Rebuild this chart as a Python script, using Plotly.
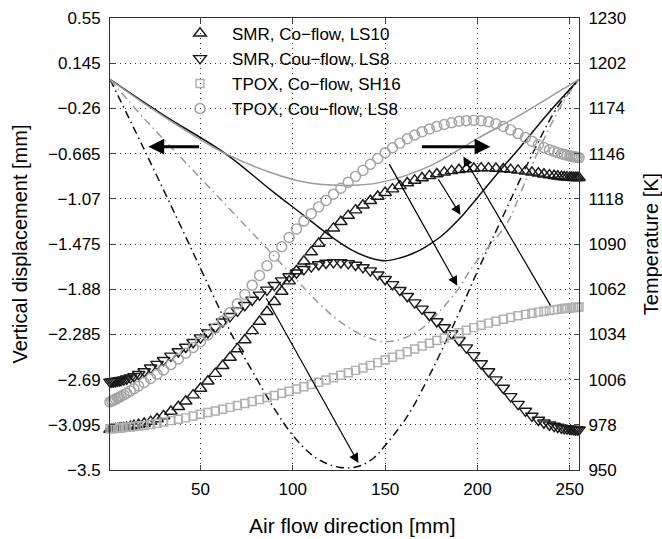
import plotly.graph_objects as go

# ---------------- data ----------------
# shared axial positions of marker samples [mm]
x_nodes = [1, 2, 3, 4, 5, 6, 7, 8.5, 10, 12, 14, 16.5, 19.5, 23, 26.5, 30,
           34, 38, 42, 46, 50, 54, 58, 62, 66, 70, 74, 78, 82, 86, 90, 94, 98,
           102, 106, 110, 114, 118, 122, 126, 130, 134, 138, 142, 146, 150,
           154, 158, 162, 166, 170, 174, 178, 182, 186, 190, 194, 198, 202,
           206, 210, 214, 218, 222, 226, 229.5, 233, 236, 239, 241.5, 243.5,
           245.5, 247, 248.5, 250, 251, 252, 253, 254, 255]

# temperatures [K] (right axis)
T_smr_co = [975.0, 975.1, 975.2, 975.4, 975.5, 975.7, 975.9, 976.1, 976.4, 976.9,
            977.4, 978.0, 978.8, 980.0, 981.6, 983.5, 986.2, 989.2, 992.6, 996.4,
            1000.5, 1005.0, 1009.7, 1014.6, 1019.7, 1025.0, 1030.5, 1036.2, 1042.0,
            1048.0, 1054.2, 1060.6, 1067.0, 1073.3, 1079.3, 1085.0, 1090.3, 1095.2,
            1099.7, 1103.8, 1107.6, 1111.0, 1114.0, 1116.8, 1119.4, 1121.8, 1124.0,
            1126.0, 1127.8, 1129.4, 1130.9, 1132.2, 1133.4, 1134.4, 1135.3, 1136.0,
            1136.5, 1136.8, 1137.0, 1137.0, 1136.8, 1136.5, 1136.1, 1135.6, 1135.0,
            1134.4, 1133.8, 1133.2, 1132.7, 1132.3, 1132.0, 1131.7, 1131.5, 1131.4,
            1131.3, 1131.2, 1131.1, 1131.1, 1131.0, 1131.0]

T_smr_cou = [1004.6, 1004.7, 1004.8, 1005.0, 1005.2, 1005.4, 1005.6, 1006.0, 1006.5,
             1007.2, 1008.0, 1009.3, 1011.0, 1013.3, 1015.6, 1018.0, 1020.7, 1023.4,
             1026.2, 1029.1, 1032.0, 1035.2, 1038.5, 1041.8, 1045.2, 1048.6, 1052.0,
             1055.3, 1058.5, 1061.6, 1064.5, 1067.3, 1069.9, 1072.2, 1074.3, 1076.0,
             1077.3, 1078.2, 1078.6, 1078.5, 1078.0, 1077.0, 1075.5, 1073.5, 1071.0,
             1068.2, 1065.0, 1061.4, 1057.6, 1053.7, 1049.8, 1045.9, 1042.0, 1038.3,
             1034.5, 1030.4, 1025.8, 1021.0, 1016.0, 1011.0, 1006.0, 1000.8, 995.6,
             990.8, 986.6, 983.5, 981.0, 979.3, 978.0, 977.2, 976.6, 976.1, 975.8,
             975.6, 975.4, 975.3, 975.2, 975.1, 975.0, 975.0]

T_tpox_co = [975.5, 975.6, 975.7, 975.8, 975.9, 976.0, 976.1, 976.3, 976.5, 976.7,
             977.0, 977.3, 977.6, 978.2, 978.9, 979.7, 980.6, 981.4, 982.3, 983.4,
             984.5, 985.6, 986.6, 987.6, 988.8, 990.0, 991.2, 992.4, 993.6, 994.9,
             996.2, 997.5, 998.8, 1000.2, 1001.6, 1003.0, 1004.4, 1005.8, 1007.2,
             1008.7, 1010.2, 1011.7, 1013.2, 1014.8, 1016.5, 1018.2, 1019.9, 1021.6,
             1023.3, 1025.0, 1026.8, 1028.5, 1030.2, 1031.8, 1033.4, 1035.0, 1036.6,
             1038.2, 1039.7, 1041.0, 1042.2, 1043.4, 1044.5, 1045.5, 1046.4, 1047.1,
             1047.8, 1048.3, 1048.8, 1049.2, 1049.5, 1049.8, 1050.0, 1050.2, 1050.4,
             1050.6, 1050.7, 1050.8, 1050.9, 1051.0]

T_tpox_cou = [992.2, 992.8, 993.3, 993.9, 994.5, 995.1, 995.7, 996.6, 997.5, 998.9,
              1000.3, 1002.0, 1004.2, 1006.7, 1009.3, 1012.0, 1015.3, 1018.8, 1022.3,
              1025.9, 1029.5, 1033.6, 1037.9, 1042.3, 1047.5, 1053.0, 1058.7, 1064.5,
              1070.5, 1076.5, 1082.5, 1088.3, 1094.0, 1099.3, 1104.2, 1108.8, 1113.0,
              1117.0, 1120.8, 1124.5, 1128.2, 1131.9, 1135.6, 1139.4, 1143.0, 1146.5,
              1149.6, 1152.5, 1155.2, 1157.5, 1159.5, 1161.2, 1162.8, 1164.0, 1165.1,
              1166.0, 1166.4, 1166.6, 1166.4, 1165.7, 1164.5, 1162.8, 1160.7, 1158.4,
              1156.0, 1153.7, 1151.5, 1149.7, 1148.4, 1147.4, 1146.6, 1145.9, 1145.4,
              1145.0, 1144.6, 1144.3, 1144.1, 1143.9, 1143.7, 1143.5]

# vertical displacements [mm] (left axis)
x_d_smr_co = [1, 30, 63.5, 88, 106, 120, 132, 142, 150, 158, 165, 172, 180, 186,
              192.4, 200, 212, 222, 238, 255]
d_smr_co = [0, -0.32, -0.665, -0.99, -1.22, -1.40, -1.53, -1.60, -1.625, -1.60,
            -1.56, -1.50, -1.41, -1.32, -1.21, -1.06, -0.82, -0.63, -0.31, 0]

x_d_smr_cou = [1, 19, 38, 55, 68, 79, 90, 100, 110, 118, 125, 131, 137, 144, 150,
               162, 175, 189, 200, 214, 230, 241, 248, 255]
d_smr_cou = [0, -0.61, -1.27, -1.87, -2.32, -2.64, -2.95, -3.19, -3.36, -3.44,
             -3.475, -3.48, -3.46, -3.39, -3.28, -3.02, -2.62, -2.13, -1.72, -1.22,
             -0.66, -0.31, -0.14, 0]

x_d_tpox_co = [1, 19, 50, 63.5, 88, 106, 127, 147, 175, 200, 222, 240, 255]
d_tpox_co = [0, -0.21, -0.54, -0.665, -0.835, -0.92, -0.95, -0.925, -0.77, -0.53,
             -0.33, -0.15, 0]

x_d_tpox_cou = [1, 20, 40, 60, 80, 100, 115, 128, 140, 150, 160, 170, 180, 190,
                196, 205, 213.5, 218, 223, 232, 240, 248, 255]
d_tpox_cou = [0, -0.36, -0.71, -1.06, -1.41, -1.76, -2.02, -2.20, -2.31, -2.35,
              -2.32, -2.23, -2.07, -1.87, -1.71, -1.52, -1.35, -1.23, -1.03, -0.68,
              -0.40, -0.16, 0]

left_ticks = [-3.5, -3.095, -2.69, -2.285, -1.88, -1.475, -1.07, -0.665, -0.26, 0.145, 0.55]
left_ticktext = ["\u22123.5", "\u22123.095", "\u22122.69", "\u22122.285", "\u22121.88",
                 "\u22121.475", "\u22121.07", "\u22120.665", "\u22120.26", "0.145", "0.55"]
right_ticks = [950, 978, 1006, 1034, 1062, 1090, 1118, 1146, 1174, 1202, 1230]
x_ticks = [50, 100, 150, 200, 250]

# arrows: (tail_x, tail_y, head_x, head_y) in displacement-axis coordinates
thick_arrows = [(50, -0.603, 21.8, -0.603), (169.1, -0.603, 207.0, -0.603)]
thin_arrows = [(85.2, -1.948, 135.5, -3.437), (151.8, -0.746, 189.1, -1.849),
               (178.3, -0.881, 190.8, -1.213), (240.0, -2.038, 192.4, -0.692)]

# ---------------- figure ----------------
FONT = "Liberation Sans, Arial, sans-serif"
fig = go.Figure()

DD = "8px,4px,1.5px,4px"
fig.add_trace(go.Scatter(x=x_d_smr_co, y=d_smr_co, mode="lines", line_shape="spline",
                         line=dict(color="#111111", width=1.5), showlegend=False))
fig.add_trace(go.Scatter(x=x_d_smr_cou, y=d_smr_cou, mode="lines", line_shape="spline",
                         line=dict(color="#111111", width=1.5, dash=DD), showlegend=False))
fig.add_trace(go.Scatter(x=x_d_tpox_co, y=d_tpox_co, mode="lines", line_shape="spline",
                         line=dict(color="#9a9a9a", width=1.5), showlegend=False))
fig.add_trace(go.Scatter(x=x_d_tpox_cou, y=d_tpox_cou, mode="lines", line_shape="spline",
                         line=dict(color="#9a9a9a", width=1.5, dash=DD), showlegend=False))

MW = 1.45
fig.add_trace(go.Scatter(x=x_nodes, y=T_smr_co, yaxis="y2", mode="markers",
                         name="SMR, Co\u2212flow, LS10", cliponaxis=False,
                         marker=dict(symbol="triangle-up-open", size=11, color="#1a1a1a",
                                     line=dict(width=MW, color="#1a1a1a"))))
fig.add_trace(go.Scatter(x=x_nodes, y=T_smr_cou, yaxis="y2", mode="markers",
                         name="SMR, Cou\u2212flow, LS8", cliponaxis=False,
                         marker=dict(symbol="triangle-down-open", size=11, color="#1a1a1a",
                                     line=dict(width=MW, color="#1a1a1a"))))
fig.add_trace(go.Scatter(x=x_nodes, y=T_tpox_co, yaxis="y2", mode="markers",
                         name="TPOX, Co\u2212flow, SH16", cliponaxis=False,
                         marker=dict(symbol="square-open", size=8, color="#b0b0b0",
                                     line=dict(width=MW, color="#b0b0b0"))))
fig.add_trace(go.Scatter(x=x_nodes, y=T_tpox_cou, yaxis="y2", mode="markers",
                         name="TPOX, Cou\u2212flow, LS8", cliponaxis=False,
                         marker=dict(symbol="circle-open", size=10, color="#a3a3a3",
                                     line=dict(width=MW, color="#a3a3a3"))))

ann = []
for tx, ty, hx, hy in thick_arrows:
    ann.append(dict(x=hx, y=hy, ax=tx, ay=ty, xref="x", yref="y", axref="x", ayref="y",
                    text="", showarrow=True, arrowhead=2, arrowsize=1.05, arrowwidth=3,
                    arrowcolor="black", standoff=0, startstandoff=0))
for tx, ty, hx, hy in thin_arrows:
    ann.append(dict(x=hx, y=hy, ax=tx, ay=ty, xref="x", yref="y", axref="x", ayref="y",
                    text="", showarrow=True, arrowhead=2, arrowsize=1.6, arrowwidth=1.2,
                    arrowcolor="black", standoff=0, startstandoff=0))
# x-axis title (placed as text slightly right of centre, as in the original)
ann.append(dict(text="Air flow direction [mm]", xref="paper", yref="paper",
                x=0.518, y=-0.122, xanchor="center", yanchor="middle", showarrow=False,
                font=dict(family=FONT, size=21, color="black")))

fig.update_layout(
    width=662, height=539,
    margin=dict(l=110, r=83, t=18, b=69, autoexpand=False),
    paper_bgcolor="white", plot_bgcolor="white",
    font=dict(family=FONT, size=17, color="black"),
    annotations=ann,
    showlegend=True,
    legend=dict(x=0.1237, y=1.005, xanchor="left", yanchor="top",
                bgcolor="rgba(0,0,0,0)", borderwidth=0, itemwidth=54,
                font=dict(family=FONT, size=17, color="black"), tracegroupgap=0),
    xaxis=dict(range=[1, 255], tickvals=x_ticks, ticks="inside", ticklen=5,
               showline=True, linecolor="#333", linewidth=1, mirror="ticks",
               showgrid=True, gridcolor="#333", gridwidth=1, griddash="1px,4px",
               zeroline=False, ticklabelstandoff=4, automargin=False),
    yaxis=dict(range=[-3.5, 0.55], tickvals=left_ticks, ticktext=left_ticktext,
               ticks="inside", ticklen=5, showline=True, linecolor="#333", linewidth=1,
               showgrid=True, gridcolor="#333", gridwidth=1, griddash="1px,4px",
               zeroline=False, ticklabelstandoff=5, automargin=False,
               title=dict(text="Vertical displacement [mm]", font=dict(size=20), standoff=15)),
    yaxis2=dict(range=[950, 1230], tickvals=right_ticks, overlaying="y", side="right",
                ticks="inside", ticklen=5, showline=True, linecolor="#333", linewidth=1,
                showgrid=False, zeroline=False, ticklabelstandoff=5, automargin=False,
                title=dict(text="Temperature [K]", font=dict(size=20), standoff=20)),
)

fig.write_html("out.html")
